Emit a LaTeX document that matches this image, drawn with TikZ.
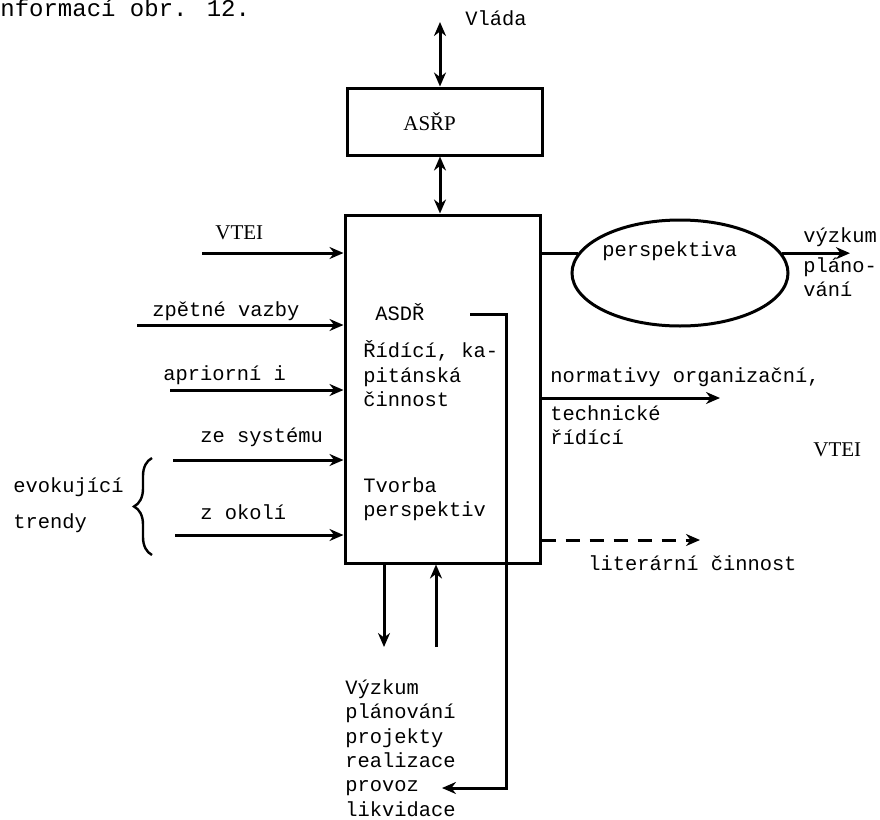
\documentclass[tikz,border=0pt]{standalone}
\usepackage{fontspec}
\setmainfont{Liberation Mono}
\newfontfamily\tmsfont{Liberation Serif}
\usetikzlibrary{arrows.meta,shapes.geometric,decorations.pathreplacing}

\begin{document}
\begin{tikzpicture}[
  x=0.5pt,y=-0.5pt,
  every node/.style={font=\fontsize{10.2}{12.2}\selectfont,align=left,inner sep=0pt},
  lbl/.style={anchor=west},
  serif/.style={font=\fontsize{10.5}{12}\selectfont\tmsfont},
  box/.style={draw,line width=1.5pt},
  line/.style={line width=1.5pt},
  arr/.style={-{Stealth[length=7pt,width=6pt]},line width=1.5pt},
  darr/.style={{Stealth[length=7pt,width=6pt]}-{Stealth[length=7pt,width=6pt]},line width=1.5pt}
]
\useasboundingbox (0,0) rectangle (880,820);

% blocks
\node[box,minimum width=97.5pt,minimum height=174pt] (main) at (442.5,389) {};
\node[box,minimum width=97.5pt,minimum height=33.5pt] (asrp) at (444.5,121.5) {};
\node[box,ellipse,minimum width=108pt,minimum height=53pt] (persp) at (680,273) {};

% texts
\node[lbl,font=\fontsize{12}{14}\selectfont] (note) at (0,8) {nformací obr. 12.};
\node[lbl] (vlada) at (465,18) {Vláda};
\node[lbl,serif] (asrplbl) at (403,122) {ASŘP};
\node[lbl,serif] (vtei) at (215,233) {VTEI};
\node[lbl] (zpetne) at (152,311) {zpětné vazby};
\node[lbl] (apriorni) at (163,375) {apriorní i};
\node[lbl] (zesystemu) at (200,437) {ze systému};
\node[lbl] (zokoli) at (200,512) {z okolí};
\node[lbl] (evok) at (13,487) {evokující};
\node[lbl] (trendy) at (13,523) {trendy};
\node[lbl] (asdr) at (375,312) {ASDŘ};
\node[lbl] (ridici) at (363,374) {Řídící, ka-\\pitánská\\činnost};
\node[lbl] (tvorba) at (363,499) {Tvorba\\perspektiv};
\node[lbl] (persplbl) at (602,251) {perspektiva};
\node[lbl] (vyzkum) at (803,237) {výzkum};
\node[lbl] (plano) at (803,277) {pláno-\\vání};
\node[lbl] (normativy) at (550,377) {normativy organizační,};
\node[lbl] (technicke) at (550,425) {technické\\řídící};
\node[lbl,serif] (vtei2) at (813,450) {VTEI};
\node[lbl] (literarni) at (588,563) {literární činnost};
\node[lbl] (faze) at (345,748) {Výzkum\\plánování\\projekty\\realizace\\provoz\\likvidace};

% free ends
\coordinate (vladaend) at (440,22);
\coordinate (in1) at (202,253);
\coordinate (in2) at (137,325);
\coordinate (in3) at (170,390);
\coordinate (in4) at (173,460);
\coordinate (in5) at (175,535);
\coordinate (outvyz) at (850,253);
\coordinate (normend) at (720,398);
\coordinate (litend) at (700,540);
\coordinate (downend) at (384,647);
\coordinate (upstart) at (436,647);
\coordinate (fbstart) at (470,314);
\coordinate (fbturn) at (506,788);
\coordinate (fbend) at (442,788);

% connectors
\draw[darr] (vladaend) -- (asrp.north -| vladaend);
\draw[darr] (asrp.south -| vladaend) -- (main.north -| vladaend);
\draw[arr] (in1) -- (main.west |- in1);
\draw[arr] (in2) -- (main.west |- in2);
\draw[arr] (in3) -- (main.west |- in3);
\draw[arr] (in4) -- (main.west |- in4);
\draw[arr] (in5) -- (main.west |- in5);
\draw[line] (main.east |- persp.169) -- (persp.169);
\draw[arr] (persp.11) -- (outvyz |- persp.11);
\draw[arr] (main.east |- normend) -- (normend);
\draw[arr,dash pattern=on 7pt off 5pt] (main.east |- litend) -- (litend);
\draw[arr] (main.south -| downend) -- (downend);
\draw[arr] (upstart) -- (main.south -| upstart);
\draw[arr] (fbstart) -| (fbturn) -- (fbend);
\draw[decorate,decoration={brace,amplitude=9pt},line width=1.2pt] (152,555) -- (152,458);
\end{tikzpicture}
\end{document}
